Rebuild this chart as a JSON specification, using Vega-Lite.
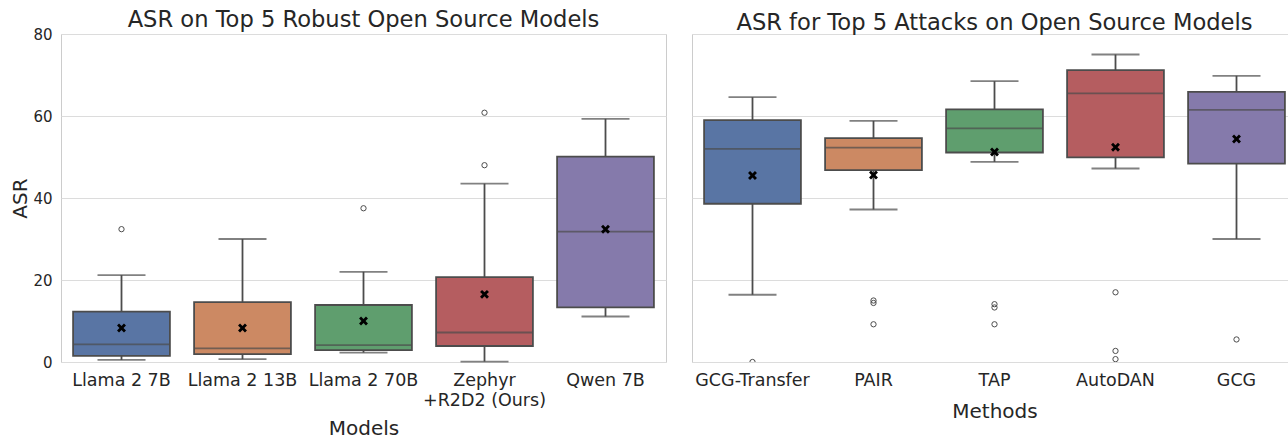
{
  "$schema": "https://vega.github.io/schema/vega-lite/v6.json",
  "background": "white",
  "padding": {"left": 10, "top": 8, "right": 0, "bottom": 0},
  "spacing": 24,
  "datasets": {
    "boxes": [
      {"panel": "models", "cat": "Llama 2 7B", "lo": 0.5, "q1": 1.5, "med": 4.3, "q3": 12.3, "hi": 21.2, "mean": 8.3},
      {"panel": "models", "cat": "Llama 2 13B", "lo": 0.7, "q1": 1.9, "med": 3.3, "q3": 14.6, "hi": 30.0, "mean": 8.3},
      {"panel": "models", "cat": "Llama 2 70B", "lo": 2.3, "q1": 2.9, "med": 4.1, "q3": 13.9, "hi": 22.0, "mean": 10.0},
      {"panel": "models", "cat": "Zephyr +R2D2 (Ours)", "lo": 0.1, "q1": 3.9, "med": 7.2, "q3": 20.7, "hi": 43.5, "mean": 16.5},
      {"panel": "models", "cat": "Qwen 7B", "lo": 11.1, "q1": 13.3, "med": 31.8, "q3": 50.1, "hi": 59.3, "mean": 32.4},
      {"panel": "methods", "cat": "GCG-Transfer", "lo": 16.4, "q1": 38.6, "med": 52.0, "q3": 59.0, "hi": 64.6, "mean": 45.5},
      {"panel": "methods", "cat": "PAIR", "lo": 37.2, "q1": 46.8, "med": 52.3, "q3": 54.6, "hi": 58.8, "mean": 45.6},
      {"panel": "methods", "cat": "TAP", "lo": 48.8, "q1": 51.1, "med": 57.0, "q3": 61.6, "hi": 68.5, "mean": 51.2},
      {"panel": "methods", "cat": "AutoDAN", "lo": 47.2, "q1": 49.9, "med": 65.5, "q3": 71.2, "hi": 75.0, "mean": 52.4},
      {"panel": "methods", "cat": "GCG", "lo": 30.0, "q1": 48.4, "med": 61.5, "q3": 65.9, "hi": 69.8, "mean": 54.4}
    ],
    "outliers": [
      {"panel": "models", "cat": "Llama 2 7B", "value": 32.4},
      {"panel": "models", "cat": "Llama 2 70B", "value": 37.5},
      {"panel": "models", "cat": "Zephyr +R2D2 (Ours)", "value": 48.0},
      {"panel": "models", "cat": "Zephyr +R2D2 (Ours)", "value": 60.8},
      {"panel": "methods", "cat": "GCG-Transfer", "value": 0.0},
      {"panel": "methods", "cat": "PAIR", "value": 15.0},
      {"panel": "methods", "cat": "PAIR", "value": 14.4},
      {"panel": "methods", "cat": "PAIR", "value": 9.2},
      {"panel": "methods", "cat": "TAP", "value": 14.1},
      {"panel": "methods", "cat": "TAP", "value": 13.3},
      {"panel": "methods", "cat": "TAP", "value": 9.2},
      {"panel": "methods", "cat": "AutoDAN", "value": 17.0},
      {"panel": "methods", "cat": "AutoDAN", "value": 2.7},
      {"panel": "methods", "cat": "AutoDAN", "value": 0.7},
      {"panel": "methods", "cat": "GCG", "value": 5.5}
    ]
  },
  "config": {
    "font": "DejaVu Sans",
    "view": {"stroke": "#cccccc", "strokeWidth": 1},
    "axis": {
      "labelColor": "#262626", "titleColor": "#262626", "gridColor": "#dcdcdc", "gridWidth": 1,
      "domain": false, "ticks": false, "labelFont": "DejaVu Sans", "titleFont": "DejaVu Sans", "titleFontWeight": "normal"
    },
    "axisX": {"labelFontSize": 17.5, "titleFontSize": 20, "labelAngle": 0, "grid": false, "labelPadding": 9, "labelLineHeight": 20, "titlePadding": 13},
    "axisY": {"labelFontSize": 15, "titleFontSize": 20, "labelPadding": 9, "titlePadding": 2}
  },
  "resolve": {"scale": {"color": "independent"}},
  "hconcat": [
    {
      "width": 605,
      "height": 328,
      "title": {"text": "ASR on Top 5 Robust Open Source Models", "fontSize": 22.6, "fontWeight": "normal", "color": "#262626", "font": "DejaVu Sans", "frame": "group", "anchor": "middle", "offset": -5},
      "layer": [
        {
          "data": {"name": "boxes"},
          "transform": [{"filter": "datum.panel == 'models'"}],
          "mark": {"type": "rule", "color": "#4c4c4c", "strokeWidth": 1.8},
          "encoding": {
            "x": {"field": "cat", "type": "nominal", "sort": ["Llama 2 7B", "Llama 2 13B", "Llama 2 70B", "Zephyr +R2D2 (Ours)", "Qwen 7B"], "scale": {"paddingInner": 0, "paddingOuter": 0}, "title": "Models",
              "axis": {"titlePadding": 10, "labelExpr": "datum.value == 'Zephyr +R2D2 (Ours)' ? ['Zephyr', '+R2D2 (Ours)'] : datum.label"}},
            "y": {"field": "lo", "type": "quantitative", "scale": {"domain": [0, 80]}, "title": "ASR", "axis": {"values": [0, 20, 40, 60, 80]}},
            "y2": {"field": "hi"}
          }
        },
        {
          "data": {"name": "boxes"},
          "transform": [{"filter": "datum.panel == 'models'"}],
          "mark": {"type": "bar", "width": {"band": 0.8}, "stroke": "#4c4c4c", "strokeWidth": 1.8},
          "encoding": {
            "x": {"field": "cat", "type": "nominal", "sort": ["Llama 2 7B", "Llama 2 13B", "Llama 2 70B", "Zephyr +R2D2 (Ours)", "Qwen 7B"], "title": "Models"},
            "y": {"field": "q1", "type": "quantitative", "title": "ASR"},
            "y2": {"field": "q3"},
            "color": {"field": "cat", "type": "nominal", "legend": null,
              "scale": {"domain": ["Llama 2 7B", "Llama 2 13B", "Llama 2 70B", "Zephyr +R2D2 (Ours)", "Qwen 7B"], "range": ["#5975a4", "#cc8963", "#5f9e6e", "#b55d60", "#857aab"]}}
          }
        },
        {
          "data": {"name": "boxes"},
          "transform": [{"filter": "datum.panel == 'models'"}],
          "mark": {"type": "tick", "color": "#4c4c4c", "thickness": 1.8, "size": 97, "orient": "horizontal"},
          "encoding": {
            "x": {"field": "cat", "type": "nominal", "sort": ["Llama 2 7B", "Llama 2 13B", "Llama 2 70B", "Zephyr +R2D2 (Ours)", "Qwen 7B"], "title": "Models"},
            "y": {"field": "med", "type": "quantitative", "title": "ASR"}
          }
        },
        {
          "data": {"name": "boxes"},
          "transform": [{"filter": "datum.panel == 'models'"}, {"fold": ["lo", "hi"], "as": ["k", "v"]}],
          "mark": {"type": "tick", "color": "#4c4c4c", "thickness": 1.8, "size": 48, "orient": "horizontal"},
          "encoding": {
            "x": {"field": "cat", "type": "nominal", "sort": ["Llama 2 7B", "Llama 2 13B", "Llama 2 70B", "Zephyr +R2D2 (Ours)", "Qwen 7B"], "title": "Models"},
            "y": {"field": "v", "type": "quantitative", "title": "ASR"}
          }
        },
        {
          "data": {"name": "boxes"},
          "transform": [{"filter": "datum.panel == 'models'"}],
          "mark": {"type": "point", "shape": "M-1,-0.55L-0.55,-1L0,-0.45L0.55,-1L1,-0.55L0.45,0L1,0.55L0.55,1L0,0.45L-0.55,1L-1,0.55L-0.45,0Z", "filled": true, "color": "black", "size": 80, "opacity": 1},
          "encoding": {
            "x": {"field": "cat", "type": "nominal", "sort": ["Llama 2 7B", "Llama 2 13B", "Llama 2 70B", "Zephyr +R2D2 (Ours)", "Qwen 7B"], "title": "Models"},
            "y": {"field": "mean", "type": "quantitative", "title": "ASR"}
          }
        },
        {
          "data": {"name": "outliers"},
          "transform": [{"filter": "datum.panel == 'models'"}],
          "mark": {"type": "point", "filled": false, "color": "#4c4c4c", "strokeWidth": 1, "size": 28, "opacity": 1, "clip": true},
          "encoding": {
            "x": {"field": "cat", "type": "nominal", "sort": ["Llama 2 7B", "Llama 2 13B", "Llama 2 70B", "Zephyr +R2D2 (Ours)", "Qwen 7B"], "title": "Models"},
            "y": {"field": "value", "type": "quantitative", "title": "ASR"}
          }
        }
      ]
    },
    {
      "width": 605,
      "height": 328,
      "title": {"text": "ASR for Top 5 Attacks on Open Source Models", "fontSize": 22.6, "fontWeight": "normal", "color": "#262626", "font": "DejaVu Sans", "frame": "group", "anchor": "middle", "offset": -5, "dy": -4},
      "layer": [
        {
          "data": {"name": "boxes"},
          "transform": [{"filter": "datum.panel == 'methods'"}],
          "mark": {"type": "rule", "color": "#4c4c4c", "strokeWidth": 1.8},
          "encoding": {
            "x": {"field": "cat", "type": "nominal", "sort": ["GCG-Transfer", "PAIR", "TAP", "AutoDAN", "GCG"], "scale": {"paddingInner": 0, "paddingOuter": 0}, "title": "Methods"},
            "y": {"field": "lo", "type": "quantitative", "scale": {"domain": [0, 80]}, "title": null, "axis": {"values": [0, 20, 40, 60, 80], "labels": false, "title": null}},
            "y2": {"field": "hi"}
          }
        },
        {
          "data": {"name": "boxes"},
          "transform": [{"filter": "datum.panel == 'methods'"}],
          "mark": {"type": "bar", "width": {"band": 0.8}, "stroke": "#4c4c4c", "strokeWidth": 1.8},
          "encoding": {
            "x": {"field": "cat", "type": "nominal", "sort": ["GCG-Transfer", "PAIR", "TAP", "AutoDAN", "GCG"], "title": "Methods"},
            "y": {"field": "q1", "type": "quantitative", "title": null},
            "y2": {"field": "q3"},
            "color": {"field": "cat", "type": "nominal", "legend": null,
              "scale": {"domain": ["GCG-Transfer", "PAIR", "TAP", "AutoDAN", "GCG"], "range": ["#5975a4", "#cc8963", "#5f9e6e", "#b55d60", "#857aab"]}}
          }
        },
        {
          "data": {"name": "boxes"},
          "transform": [{"filter": "datum.panel == 'methods'"}],
          "mark": {"type": "tick", "color": "#4c4c4c", "thickness": 1.8, "size": 97, "orient": "horizontal"},
          "encoding": {
            "x": {"field": "cat", "type": "nominal", "sort": ["GCG-Transfer", "PAIR", "TAP", "AutoDAN", "GCG"], "title": "Methods"},
            "y": {"field": "med", "type": "quantitative", "title": null}
          }
        },
        {
          "data": {"name": "boxes"},
          "transform": [{"filter": "datum.panel == 'methods'"}, {"fold": ["lo", "hi"], "as": ["k", "v"]}],
          "mark": {"type": "tick", "color": "#4c4c4c", "thickness": 1.8, "size": 48, "orient": "horizontal"},
          "encoding": {
            "x": {"field": "cat", "type": "nominal", "sort": ["GCG-Transfer", "PAIR", "TAP", "AutoDAN", "GCG"], "title": "Methods"},
            "y": {"field": "v", "type": "quantitative", "title": null}
          }
        },
        {
          "data": {"name": "boxes"},
          "transform": [{"filter": "datum.panel == 'methods'"}],
          "mark": {"type": "point", "shape": "M-1,-0.55L-0.55,-1L0,-0.45L0.55,-1L1,-0.55L0.45,0L1,0.55L0.55,1L0,0.45L-0.55,1L-1,0.55L-0.45,0Z", "filled": true, "color": "black", "size": 80, "opacity": 1},
          "encoding": {
            "x": {"field": "cat", "type": "nominal", "sort": ["GCG-Transfer", "PAIR", "TAP", "AutoDAN", "GCG"], "title": "Methods"},
            "y": {"field": "mean", "type": "quantitative", "title": null}
          }
        },
        {
          "data": {"name": "outliers"},
          "transform": [{"filter": "datum.panel == 'methods'"}],
          "mark": {"type": "point", "filled": false, "color": "#4c4c4c", "strokeWidth": 1, "size": 28, "opacity": 1, "clip": true},
          "encoding": {
            "x": {"field": "cat", "type": "nominal", "sort": ["GCG-Transfer", "PAIR", "TAP", "AutoDAN", "GCG"], "title": "Methods"},
            "y": {"field": "value", "type": "quantitative", "title": null}
          }
        }
      ]
    }
  ]
}
